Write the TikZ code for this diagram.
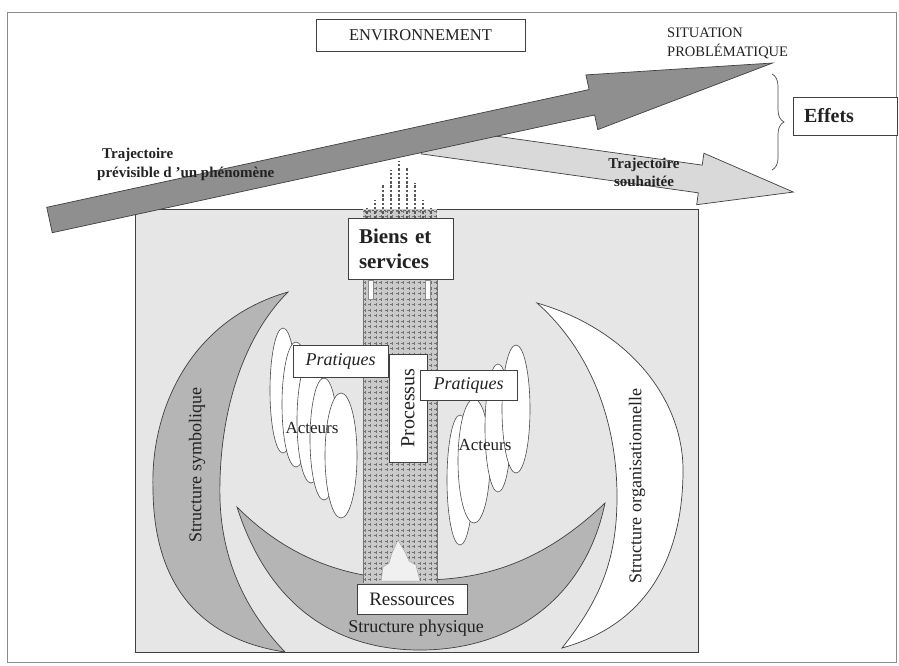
\documentclass[tikz,border=0pt]{standalone}
\usepackage{fontspec}
\setmainfont{Liberation Serif}
\usetikzlibrary{decorations.pathreplacing}
\definecolor{ink}{HTML}{222222}
\definecolor{panel}{HTML}{E6E6E6}
\definecolor{arrowdark}{HTML}{8F8F8F}
\definecolor{arrowlight}{HTML}{D9D9D9}
\definecolor{crescent}{HTML}{B5B5B5}
\definecolor{gridbg}{HTML}{CACACA}
\begin{document}
\begin{tikzpicture}[x=1pt,y=-1pt,
  outline/.style={draw=black!75,line width=0.7pt},
  labelbox/.style={outline,fill=white,inner sep=0pt,text=ink},
  actor/.style={draw=black!70,line width=0.6pt,fill=white},
  plain/.style={inner sep=0pt,text=ink},
  gridline/.style={black!55,line width=0.6pt,dash pattern=on 3pt off 2.5pt},
  dashcol/.style={black!65,line width=1.3pt,dash pattern=on 2.5pt off 1.8pt}]
\useasboundingbox (0,0) rectangle (899,665);
\fill[white] (0,0) rectangle (899,665);
\draw[black!45,line width=0.8pt] (7,12) rectangle (896,662);

% environment panel
\draw[outline,fill=panel] (135,209) rectangle (698,652);

% symbolic structure (left crescent)
\draw[outline,fill=crescent] (288,292) .. controls (190,320) and (150,410) .. (153,490)
  .. controls (154,590) and (205,640) .. (285,652)
  .. controls (245,610) and (222,560) .. (220,500)
  .. controls (218,420) and (240,340) .. (288,292) -- cycle;
% organisational structure (right crescent)
\draw[outline,fill=white] (537,303) .. controls (630,330) and (683,400) .. (683,470)
  .. controls (683,560) and (645,625) .. (562,648)
  .. controls (600,600) and (617,560) .. (617,497)
  .. controls (617,420) and (590,350) .. (537,303) -- cycle;
% physical structure (bottom crescent)
\draw[outline,fill=crescent] (237,507) .. controls (270,610) and (340,650) .. (420,650)
  .. controls (510,650) and (585,600) .. (605,503)
  .. controls (540,565) and (480,580) .. (420,580)
  .. controls (350,580) and (290,560) .. (237,507) -- cycle;

% process column
\begin{scope}
  \clip (363,209) rectangle (437,583);
  \fill[gridbg] (363,209) rectangle (437,583);
  \foreach \gx in {365,370.5,...,437} \draw[gridline] (\gx,209.5) -- (\gx,583);
  \foreach \gy in {211,216.5,...,583} \draw[gridline] (362.5,\gy) -- (437,\gy);
\end{scope}
\draw[black!55,line width=0.5pt] (363,279) -- (363,583) (437,279) -- (437,583);
% rising resources arrow at the foot of the column
\draw[black!35,line width=0.5pt,fill=panel!60!white] (381,581) -- (383,567) -- (389,563) -- (392,553)
  -- (398,540) -- (405,552) -- (409,561) -- (416,565) -- (420,581) -- cycle;
% output arrow above the goods box
\foreach \gx/\gt in {367/208,375/200,383/184,391/170,399/161,407/168,415/183,423/200,431/208}
  \draw[dashcol] (\gx,218) -- (\gx,\gt);
\draw[black!60,line width=0.9pt,dash pattern=on 2pt off 2pt] (364,210) -- (436,210);
% notches under the goods box
\draw[black!45,line width=0.5pt,fill=white] (368,280) rectangle (373,299);
\draw[black!45,line width=0.5pt,fill=white] (425,280) rectangle (430,299);

% actors, left group
\draw[actor] (283,390.5) ellipse [x radius=13pt, y radius=62.5pt];
\draw[actor] (296,404.5) ellipse [x radius=14pt, y radius=62.5pt];
\draw[actor] (311,420.5) ellipse [x radius=14pt, y radius=62.5pt];
\draw[actor] (324,439) ellipse [x radius=14pt, y radius=61pt];
\draw[actor] (341,455.5) ellipse [x radius=16pt, y radius=62.5pt];
% actors, right group
\draw[actor] (460,480) ellipse [x radius=13pt, y radius=65pt];
\draw[actor] (474,461) ellipse [x radius=16pt, y radius=62pt];
\draw[actor] (498,428) ellipse [x radius=13pt, y radius=64pt];
\draw[actor] (516,409) ellipse [x radius=14pt, y radius=64pt];

% boxes
\node[labelbox,rotate=90,minimum width=108pt,minimum height=38pt,
  font=\fontsize{20}{22}\selectfont] (proc) at (408,408) {Processus};
\node[labelbox,minimum width=95pt,minimum height=32pt,
  font=\fontsize{18}{20}\selectfont\itshape] (pratL) at (340.5,361) {Pratiques};
\node[labelbox,minimum width=97pt,minimum height=30pt,
  font=\fontsize{18}{20}\selectfont\itshape] (pratR) at (468.5,385) {Pratiques};
\node[labelbox,minimum width=105pt,minimum height=61pt,text width=83pt,align=left,
  font=\fontsize{21}{25}\selectfont\bfseries] (biens) at (400.5,248.5) {Biens et\\services};
\node[labelbox,minimum width=110pt,minimum height=30pt,
  font=\fontsize{19}{21}\selectfont] (ress) at (412,599) {Ressources};

% labels inside the panel
\node[plain,font=\fontsize{17}{19}\selectfont] (actL) at (312,428) {Acteurs};
\node[plain,font=\fontsize{17}{19}\selectfont] (actR) at (485,445) {Acteurs};
\node[plain,rotate=90,font=\fontsize{18}{20}\selectfont] (symb) at (197,465) {Structure symbolique};
\node[plain,rotate=90,font=\fontsize{18}{20}\selectfont] (orga) at (637,486) {Structure organisationnelle};
\node[plain,font=\fontsize{18}{20}\selectfont] (phys) at (416,628) {Structure physique};

% desired trajectory
\begin{scope}[shift={(423,140)},rotate=-8]
  \draw[outline,fill=arrowlight] (0,-14) -- (280,-14) -- (280,-26) -- (374,0)
    -- (280,26) -- (280,14) -- (0,14) -- cycle;
\end{scope}
% foreseeable trajectory
\begin{scope}[shift={(49.5,220)},rotate=12.25]
  \draw[outline,fill=arrowdark] (0,-13) -- (555,-13) -- (555,-28) -- (740,0)
    -- (555,28) -- (555,13) -- (0,13) -- cycle;
\end{scope}

\node[plain,anchor=north west,align=left,font=\fontsize{15}{19}\selectfont\bfseries] (tprev)
  at (97,148) {\hspace*{5pt}Trajectoire\\prévisible d 'un phénomène};
\node[plain,anchor=north,align=center,font=\fontsize{15}{18}\selectfont\bfseries] (tsouh)
  at (644,158) {Trajectoire\\souhaitée};

% top labels
\node[labelbox,minimum width=209pt,minimum height=32pt,
  font=\fontsize{16.5}{19}\selectfont] (env) at (420.5,35) {ENVIRONNEMENT};
\node[plain,anchor=north west,align=left,font=\fontsize{14.5}{19}\selectfont] (sit)
  at (667,28) {SITUATION\\PROBLÉMATIQUE};

% effects
\coordinate (bt) at (772,74);
\coordinate (bb) at (772,170);
\draw[decorate,decoration={brace,amplitude=12pt},black!70,line width=0.7pt] (bt) -- (bb);
\node[labelbox,minimum width=104pt,minimum height=38pt,text width=82pt,align=left,
  font=\fontsize{20}{22}\selectfont\bfseries] (eff) at (845,116) {Effets};
\end{tikzpicture}
\end{document}
